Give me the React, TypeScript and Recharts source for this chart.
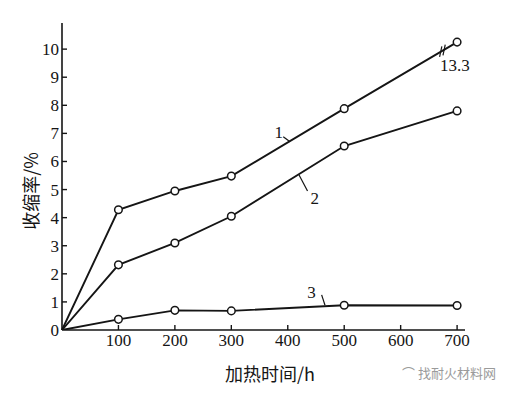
import { LineChart, Line, XAxis, YAxis, ReferenceLine, ReferenceDot } from "recharts";

const hours = [0, 100, 200, 300, 500, 700];
const shrink1 = [0, 4.28, 4.95, 5.48, 7.88, 10.25];
const shrink2 = [0, 2.32, 3.1, 4.05, 6.55, 7.8];
const shrink3 = [0, 0.38, 0.7, 0.68, 0.88, 0.87];
const xTicks = [100, 200, 300, 400, 500, 600, 700];
const yTicks = [0, 1, 2, 3, 4, 5, 6, 7, 8, 9, 10];

const data = hours.map((t, i) => ({ t, s1: shrink1[i], s2: shrink2[i], s3: shrink3[i] }));

const INK = "#151515";
const NUM_FONT = '"Liberation Serif", "DejaVu Serif", serif';
const CJK_FONT = '"Noto Sans CJK SC", "Liberation Serif", serif';

const numStyle = { fontFamily: NUM_FONT, fontSize: 17 };
const cjkStyle = { fontFamily: CJK_FONT, fontSize: 18 };

const Dot = (props: any) => {
  const { cx, cy, index } = props;
  if (index === 0 || cx == null) return <g key={`d-${index}`} />;
  return <circle key={`d-${index}`} cx={cx} cy={cy} r={3.8} fill="#fff" stroke={INK} strokeWidth={1.5} />;
};

const YTick = (props: any) => {
  const { x, y, payload } = props;
  return (
    <g>
      {payload.value > 0 && <line x1={x} x2={x + 5} y1={y} y2={y} stroke={INK} strokeWidth={1.4} />}
      <text x={x - 3} y={y} dy="0.35em" textAnchor="end" style={numStyle} fill={INK}>
        {payload.value}
      </text>
    </g>
  );
};

const XTick = (props: any) => {
  const { x, y, payload } = props;
  return (
    <g>
      <line x1={x} x2={x} y1={y} y2={y - 5} stroke={INK} strokeWidth={1.4} />
      <text x={x} y={y + 16} textAnchor="middle" style={numStyle} fill={INK}>
        {payload.value}
      </text>
    </g>
  );
};

const textShape = (label: string) => (p: any) => (
  <text x={p.cx} y={p.cy} dy="0.35em" textAnchor="middle" style={numStyle} fill={INK}>
    {label}
  </text>
);

const leader = { stroke: INK, strokeWidth: 1.2 };

export default function App() {
  return (
    <div style={{ position: "absolute", left: 0, top: 0, width: 512, height: 397, background: "#fff" }}>
      <LineChart width={512} height={397} data={data} margin={{ top: 23, right: 47, bottom: 0, left: 0 }}>
        <XAxis
          dataKey="t"
          type="number"
          domain={[0, 714]}
          ticks={xTicks}
          height={67}
          tickSize={0}
          tickMargin={0}
          tick={XTick}
          axisLine={{ stroke: INK, strokeWidth: 1.6 }}
          tickLine={false}
          label={() => (
            <text x={270} y={381} textAnchor="middle" style={cjkStyle} fill={INK}>
              加热时间/h
            </text>
          )}
        />
        <YAxis
          type="number"
          domain={[0, 10.93]}
          ticks={yTicks}
          width={62}
          tickSize={0}
          tickMargin={0}
          tick={YTick}
          axisLine={{ stroke: INK, strokeWidth: 1.6 }}
          tickLine={false}
          allowDataOverflow
          label={() => (
            <text
              x={30}
              y={191}
              textAnchor="middle"
              dominantBaseline="central"
              transform="rotate(-90 30 191)"
              style={cjkStyle}
              fill={INK}
            >
              收缩率/%
            </text>
          )}
        />
        <Line dataKey="s1" stroke={INK} strokeWidth={1.9} dot={Dot} isAnimationActive={false} />
        <Line dataKey="s2" stroke={INK} strokeWidth={1.9} dot={Dot} isAnimationActive={false} />
        <Line dataKey="s3" stroke={INK} strokeWidth={1.9} dot={Dot} isAnimationActive={false} />

        <ReferenceLine segment={[{ x: 392, y: 6.88 }, { x: 404, y: 6.7 }]} {...leader} />
        <ReferenceLine segment={[{ x: 420, y: 5.52 }, { x: 435, y: 4.95 }]} {...leader} />
        <ReferenceLine segment={[{ x: 460, y: 1.25 }, { x: 466, y: 0.88 }]} {...leader} />
        <ReferenceLine segment={[{ x: 669, y: 9.72 }, { x: 673, y: 10.1 }]} {...leader} />
        <ReferenceLine segment={[{ x: 675, y: 9.78 }, { x: 679, y: 10.16 }]} {...leader} />

        <ReferenceDot x={384} y={7.06} r={0} shape={textShape("1")} />
        <ReferenceDot x={448} y={4.7} r={0} shape={textShape("2")} />
        <ReferenceDot x={442} y={1.36} r={0} shape={textShape("3")} />
        <ReferenceDot x={696} y={9.43} r={0} shape={textShape("13.3")} />
      </LineChart>
      <div
        style={{
          position: "absolute",
          left: 402,
          top: 363,
          fontFamily: CJK_FONT,
          fontSize: 13,
          color: "#9a9a9a",
          whiteSpace: "nowrap",
        }}
      >
        ⌒ 找耐火材料网
      </div>
    </div>
  );
}
